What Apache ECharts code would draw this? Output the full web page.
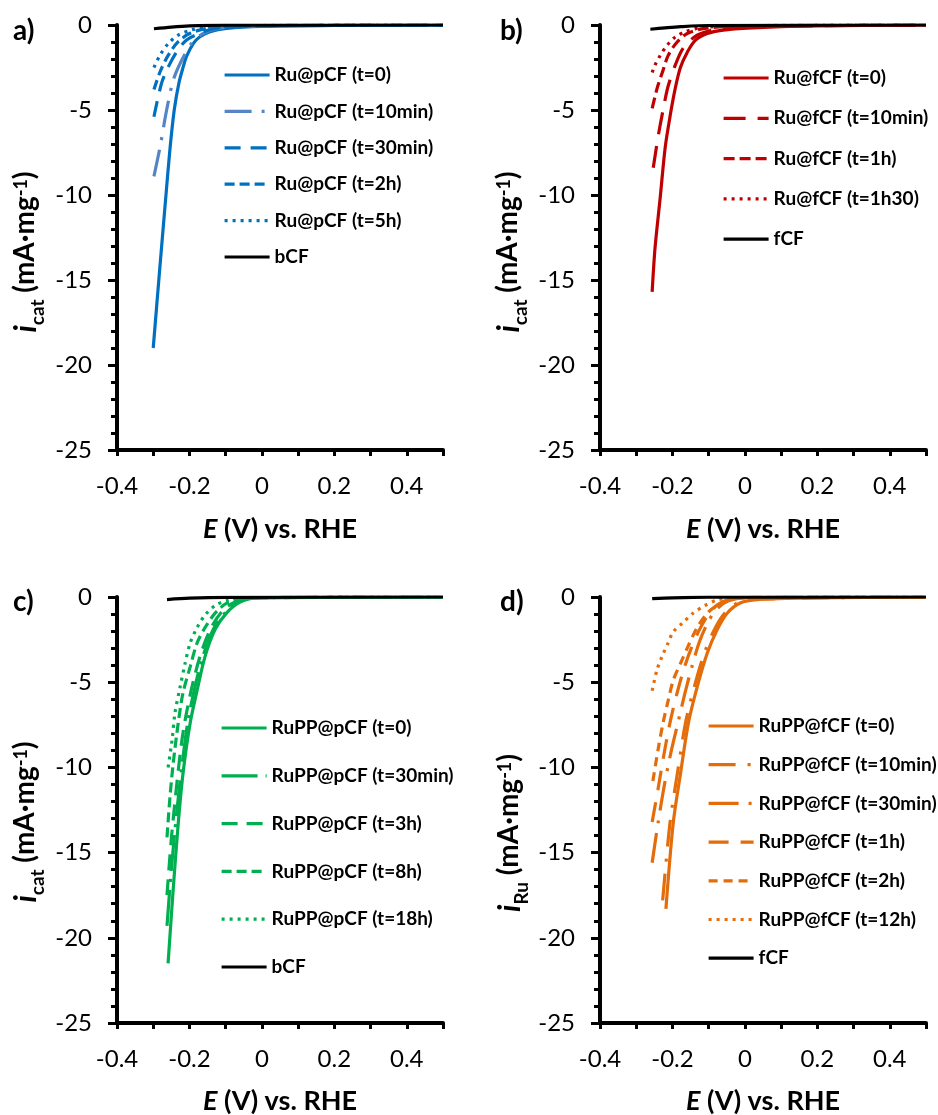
<!DOCTYPE html>
<html>
<head>
<meta charset="utf-8">
<script src="https://cdn.jsdelivr.net/npm/echarts@6/dist/echarts.min.js"></script>
<style>
html,body{margin:0;padding:0;background:#fff;}
#chart{width:938px;height:1115px;}
</style>
</head>
<body>
<div id="chart"></div>
<script>
// ---------- tick labels ----------
const X_TICK_LABELS = ['-0.4', '-0.2', '0', '0.2', '0.4'];
const Y_TICK_LABELS = ['-25', '-20', '-15', '-10', '-5', '0'];

// ---------- data: [E (V vs RHE), i (mA/mg)] ----------
// panel a
const A_T0    = [[-0.300,-19.0],[-0.283,-14.6],[-0.266,-10.3],[-0.254,-7.35],[-0.242,-5.0],[-0.229,-3.4],[-0.217,-2.45],[-0.208,-1.85],[-0.189,-1.08],[-0.171,-0.69],[-0.143,-0.39],[-0.097,-0.2],[0,-0.08],[0.2,-0.03],[0.5,0]];
const A_10MIN = [[-0.298,-8.9],[-0.281,-7.16],[-0.263,-5.0],[-0.244,-3.2],[-0.221,-2.06],[-0.194,-1.08],[-0.162,-0.49],[-0.12,-0.2],[0,-0.05],[0.5,0]];
const A_30MIN = [[-0.298,-5.4],[-0.277,-3.43],[-0.258,-2.45],[-0.235,-1.57],[-0.208,-0.88],[-0.171,-0.49],[-0.13,-0.2],[0,-0.04],[0.5,0]];
const A_2H    = [[-0.298,-3.8],[-0.281,-2.75],[-0.258,-1.76],[-0.231,-0.98],[-0.198,-0.49],[-0.15,-0.2],[0,-0.04],[0.5,0]];
const A_5H    = [[-0.298,-2.5],[-0.281,-1.76],[-0.258,-1.08],[-0.231,-0.59],[-0.194,-0.29],[-0.15,-0.12],[0,-0.03],[0.5,0]];
const A_BCF   = [[-0.298,-0.22],[-0.25,-0.12],[-0.2,-0.05],[-0.1,-0.01],[0.5,0]];
// panel b
const B_T0    = [[-0.256,-15.7],[-0.248,-13.1],[-0.234,-10.2],[-0.22,-7.2],[-0.206,-5.3],[-0.192,-3.7],[-0.178,-2.5],[-0.159,-1.6],[-0.137,-0.9],[-0.104,-0.5],[-0.06,-0.3],[0.007,-0.18],[0.2,-0.06],[0.5,0]];
const B_10MIN = [[-0.253,-8.4],[-0.239,-6.5],[-0.225,-4.9],[-0.212,-3.6],[-0.192,-2.35],[-0.17,-1.35],[-0.132,-0.6],[-0.08,-0.25],[0,-0.1],[0.5,0]];
const B_1H    = [[-0.256,-4.9],[-0.242,-3.7],[-0.228,-2.8],[-0.212,-1.8],[-0.187,-1.0],[-0.159,-0.5],[-0.11,-0.2],[0,-0.06],[0.5,0]];
const B_1H30  = [[-0.256,-2.8],[-0.248,-2.35],[-0.234,-1.8],[-0.215,-1.2],[-0.192,-0.7],[-0.165,-0.4],[-0.12,-0.15],[0,-0.04],[0.5,0]];
const B_FCF   = [[-0.261,-0.25],[-0.22,-0.17],[-0.178,-0.1],[-0.1,-0.03],[0.5,0]];
// panel c
const C_T0    = [[-0.259,-21.5],[-0.245,-17.2],[-0.231,-13.3],[-0.218,-10.4],[-0.198,-7.4],[-0.179,-5.5],[-0.157,-3.5],[-0.129,-1.9],[-0.096,-0.9],[-0.06,-0.3],[-0.013,-0.05],[0.5,0]];
const C_30MIN = [[-0.262,-19.3],[-0.25,-16.0],[-0.235,-12.6],[-0.22,-9.8],[-0.205,-7.4],[-0.185,-5.3],[-0.163,-3.5],[-0.133,-1.85],[-0.1,-0.9],[-0.065,-0.3],[-0.02,-0.05],[0.5,0]];
const C_3H    = [[-0.262,-17.5],[-0.25,-14.2],[-0.236,-11.2],[-0.222,-8.6],[-0.21,-7.0],[-0.19,-5.0],[-0.168,-3.3],[-0.14,-1.8],[-0.108,-0.8],[-0.075,-0.3],[-0.03,-0.05],[0.5,0]];
const C_8H    = [[-0.262,-14.1],[-0.254,-11.8],[-0.245,-9.8],[-0.231,-7.4],[-0.218,-5.65],[-0.198,-4.1],[-0.179,-2.7],[-0.157,-1.8],[-0.129,-0.95],[-0.096,-0.35],[-0.05,-0.05],[0.5,0]];
const C_18H   = [[-0.259,-10.0],[-0.248,-8.4],[-0.24,-6.8],[-0.226,-5.3],[-0.212,-3.9],[-0.198,-2.7],[-0.179,-1.8],[-0.157,-1.06],[-0.129,-0.5],[-0.096,-0.2],[-0.05,-0.05],[0.5,0]];
const C_BCF   = [[-0.262,-0.15],[-0.2,-0.07],[-0.1,-0.02],[0.5,0]];
// panel d
const D_T0    = [[-0.218,-18.3],[-0.198,-13.3],[-0.178,-10.4],[-0.156,-7.4],[-0.132,-5.3],[-0.104,-3.3],[-0.076,-1.9],[-0.049,-0.95],[-0.013,-0.35],[0.034,-0.15],[0.2,-0.05],[0.5,0]];
const D_10MIN = [[-0.227,-17.8],[-0.207,-13.3],[-0.186,-10.3],[-0.164,-7.4],[-0.14,-5.3],[-0.112,-3.3],[-0.084,-1.9],[-0.056,-0.95],[-0.02,-0.35],[0.03,-0.12],[0.5,0]];
const D_30MIN = [[-0.256,-15.6],[-0.24,-13.3],[-0.222,-11.0],[-0.204,-9.1],[-0.185,-7.4],[-0.165,-5.6],[-0.145,-4.0],[-0.125,-2.6],[-0.1,-1.4],[-0.075,-0.65],[-0.045,-0.22],[0,-0.05],[0.5,0]];
const D_1H    = [[-0.256,-13.2],[-0.24,-11.3],[-0.224,-9.3],[-0.207,-7.4],[-0.188,-5.7],[-0.168,-4.2],[-0.148,-3.0],[-0.125,-1.9],[-0.1,-1.0],[-0.075,-0.45],[-0.045,-0.15],[0,-0.03],[0.5,0]];
const D_2H    = [[-0.254,-10.8],[-0.24,-9.0],[-0.226,-7.4],[-0.212,-6.1],[-0.198,-4.9],[-0.179,-3.95],[-0.157,-2.9],[-0.132,-1.8],[-0.104,-0.95],[-0.077,-0.5],[-0.04,-0.15],[0,-0.03],[0.5,0]];
const D_12H   = [[-0.256,-5.5],[-0.243,-4.3],[-0.229,-3.5],[-0.212,-2.7],[-0.198,-2.05],[-0.171,-1.5],[-0.143,-0.95],[-0.11,-0.5],[-0.077,-0.18],[-0.03,-0.04],[0.5,0]];
const D_FCF   = [[-0.256,-0.1],[-0.2,-0.05],[-0.1,-0.01],[0.5,0]];

// ---------- series names ----------
const NAMES_A = ['Ru@pCF (t=0)','Ru@pCF (t=10min)','Ru@pCF (t=30min)','Ru@pCF (t=2h)','Ru@pCF (t=5h)','bCF'];
const NAMES_B = ['Ru@fCF (t=0)','Ru@fCF (t=10min)','Ru@fCF (t=1h)','Ru@fCF (t=1h30)','fCF'];
const NAMES_C = ['RuPP@pCF (t=0)','RuPP@pCF (t=30min)','RuPP@pCF (t=3h)','RuPP@pCF (t=8h)','RuPP@pCF (t=18h)','bCF'];
const NAMES_D = ['RuPP@fCF (t=0)','RuPP@fCF (t=10min)','RuPP@fCF (t=30min)','RuPP@fCF (t=1h)','RuPP@fCF (t=2h)','RuPP@fCF (t=12h)','fCF'];

// ---------- styles ----------
const FONT = 'Lato, "Open Sans", sans-serif';
const BLUE = '#0070C0', BLUE2 = '#5585C5', RED = '#C00000', GREEN = '#00B050', ORANGE = '#E46C0A', BLACK = '#000000';
const SOLID = 'solid', DOT = [3, 5];

const panels = [
  { grid: {left: 117, top: 25, width: 326, height: 425},
    legend: {left: 223, top: 65, gap: 16.4},
    label: 'a)', labelPos: [13, 31], xTitlePos: [280, 529], yTitlePos: [28, 252], ySub: 'cat',
    series: [
      [NAMES_A[0], A_T0, BLUE, SOLID],
      [NAMES_A[1], A_10MIN, BLUE2, [27, 10, 3, 10]],
      [NAMES_A[2], A_30MIN, BLUE, [16, 10]],
      [NAMES_A[3], A_2H, BLUE, [10, 5]],
      [NAMES_A[4], A_5H, BLUE, DOT],
      [NAMES_A[5], A_BCF, BLACK, SOLID]
    ]},
  { grid: {left: 600, top: 25, width: 326, height: 425},
    legend: {left: 722, top: 68, gap: 20.3},
    label: 'b)', labelPos: [500, 31], xTitlePos: [763, 529], yTitlePos: [511, 252], ySub: 'cat',
    series: [
      [NAMES_B[0], B_T0, RED, SOLID],
      [NAMES_B[1], B_10MIN, RED, [22, 12]],
      [NAMES_B[2], B_1H, RED, [11, 5]],
      [NAMES_B[3], B_1H30, RED, DOT],
      [NAMES_B[4], B_FCF, BLACK, SOLID]
    ]},
  { grid: {left: 117, top: 597, width: 326, height: 426},
    legend: {left: 220, top: 718, gap: 27.8},
    label: 'c)', labelPos: [13, 602], xTitlePos: [280, 1101], yTitlePos: [28, 822], ySub: 'cat',
    series: [
      [NAMES_C[0], C_T0, GREEN, SOLID],
      [NAMES_C[1], C_30MIN, GREEN, [36, 8, 3, 8]],
      [NAMES_C[2], C_3H, GREEN, [16, 9]],
      [NAMES_C[3], C_8H, GREEN, [10, 5]],
      [NAMES_C[4], C_18H, GREEN, DOT],
      [NAMES_C[5], C_BCF, BLACK, SOLID]
    ]},
  { grid: {left: 600, top: 597, width: 326, height: 426},
    legend: {left: 707, top: 716, gap: 18.7},
    label: 'd)', labelPos: [500, 602], xTitlePos: [763, 1101], yTitlePos: [512, 833], ySub: 'Ru',
    series: [
      [NAMES_D[0], D_T0, ORANGE, SOLID],
      [NAMES_D[1], D_10MIN, ORANGE, [27, 12, 3, 12]],
      [NAMES_D[2], D_30MIN, ORANGE, [30, 10, 3, 10]],
      [NAMES_D[3], D_1H, ORANGE, [20, 12]],
      [NAMES_D[4], D_2H, ORANGE, [9, 6]],
      [NAMES_D[5], D_12H, ORANGE, DOT],
      [NAMES_D[6], D_FCF, BLACK, SOLID]
    ]}
];

function fmt(v) { return String(Math.round(v * 10) / 10); }

const option = {
  backgroundColor: '#fff',
  animation: false,
  grid: [], xAxis: [], yAxis: [], series: [], legend: [], graphic: []
};

const richY = {
  i: {fontFamily: FONT, fontSize: 30, fontWeight: 'bold', fontStyle: 'italic', color: '#000', lineHeight: 34, verticalAlign: 'top'},
  n: {fontFamily: FONT, fontSize: 28, fontWeight: 'bold', color: '#000', lineHeight: 34, verticalAlign: 'top'},
  s: {fontFamily: FONT, fontSize: 19, fontWeight: 'bold', color: '#000', lineHeight: 19, verticalAlign: 'top', padding: [17, 0, 0, 0]},
  p: {fontFamily: FONT, fontSize: 18, fontWeight: 'bold', color: '#000', lineHeight: 18, verticalAlign: 'top', padding: [1, 0, 0, 0]}
};
const richX = {
  it: {fontFamily: FONT, fontSize: 27, fontWeight: 'bold', fontStyle: 'italic', color: '#000'},
  b: {fontFamily: FONT, fontSize: 27, fontWeight: 'bold', color: '#000'}
};

panels.forEach((p, k) => {
  option.grid.push(Object.assign({containLabel: false}, p.grid));
  option.xAxis.push({
    type: 'value', gridIndex: k, min: -0.4, max: 0.5, interval: 0.1,
    axisLine: {onZero: false, lineStyle: {color: '#000', width: 4}},
    axisTick: {length: 6, lineStyle: {color: '#000', width: 3}},
    axisLabel: {margin: 24, fontSize: 24, fontFamily: FONT, color: '#000',
      formatter: v => { const s = fmt(v); return X_TICK_LABELS.indexOf(s) >= 0 ? s : ''; }},
    splitLine: {show: false}
  });
  option.yAxis.push({
    type: 'value', gridIndex: k, min: -25, max: 0, interval: 5,
    axisLine: {onZero: false, lineStyle: {color: '#000', width: 4}},
    axisTick: {length: 9, lineStyle: {color: '#000', width: 3}},
    minorTick: {show: true, splitNumber: 5, length: 6, lineStyle: {color: '#000', width: 3}},
    axisLabel: {margin: 25, fontSize: 24, fontFamily: FONT, color: '#000',
      formatter: v => { const s = String(Math.round(v)); return Y_TICK_LABELS.indexOf(s) >= 0 ? s : ''; }},
    splitLine: {show: false}
  });
  p.series.forEach((s, j) => {
    option.series.push({
      type: 'line', name: s[0], data: s[1], xAxisIndex: k, yAxisIndex: k,
      symbol: 'none', smooth: 0.3,
      color: s[2], z: 2 + j,
      lineStyle: {color: s[2], width: 3.2, type: s[3]}
    });
  });
  option.legend.push({
    data: p.series.map(s => s[0]), orient: 'vertical', left: p.legend.left, top: p.legend.top,
    itemWidth: 45, itemHeight: 20, itemGap: p.legend.gap, selectedMode: false,
    padding: 0,
    itemStyle: {opacity: 0, borderWidth: 0},
    lineStyle: {width: 3.2},
    textStyle: {fontFamily: FONT, fontWeight: 'bold', fontSize: 19, color: '#000', lineHeight: 20}
  });
  option.graphic.push({
    type: 'text', x: p.labelPos[0], y: p.labelPos[1],
    style: {text: p.label, fontFamily: FONT, fontSize: 28, fontWeight: 'bold', fill: '#000', align: 'left', verticalAlign: 'middle'}
  });
  option.graphic.push({
    type: 'text', x: p.xTitlePos[0], y: p.xTitlePos[1],
    style: {text: '{it|E}{b| (V) vs. RHE}', rich: richX, align: 'center', verticalAlign: 'middle'}
  });
  option.graphic.push({
    type: 'text', x: p.yTitlePos[0], y: p.yTitlePos[1], rotation: Math.PI / 2,
    style: {text: '{i|i}{s|' + p.ySub + '}{n| (mA·mg}{p|-1}{n|)}', rich: richY, align: 'center', verticalAlign: 'middle'}
  });
});

const chart = echarts.init(document.getElementById('chart'), null, {renderer: 'canvas'});
chart.setOption(option);
</script>
</body>
</html>
